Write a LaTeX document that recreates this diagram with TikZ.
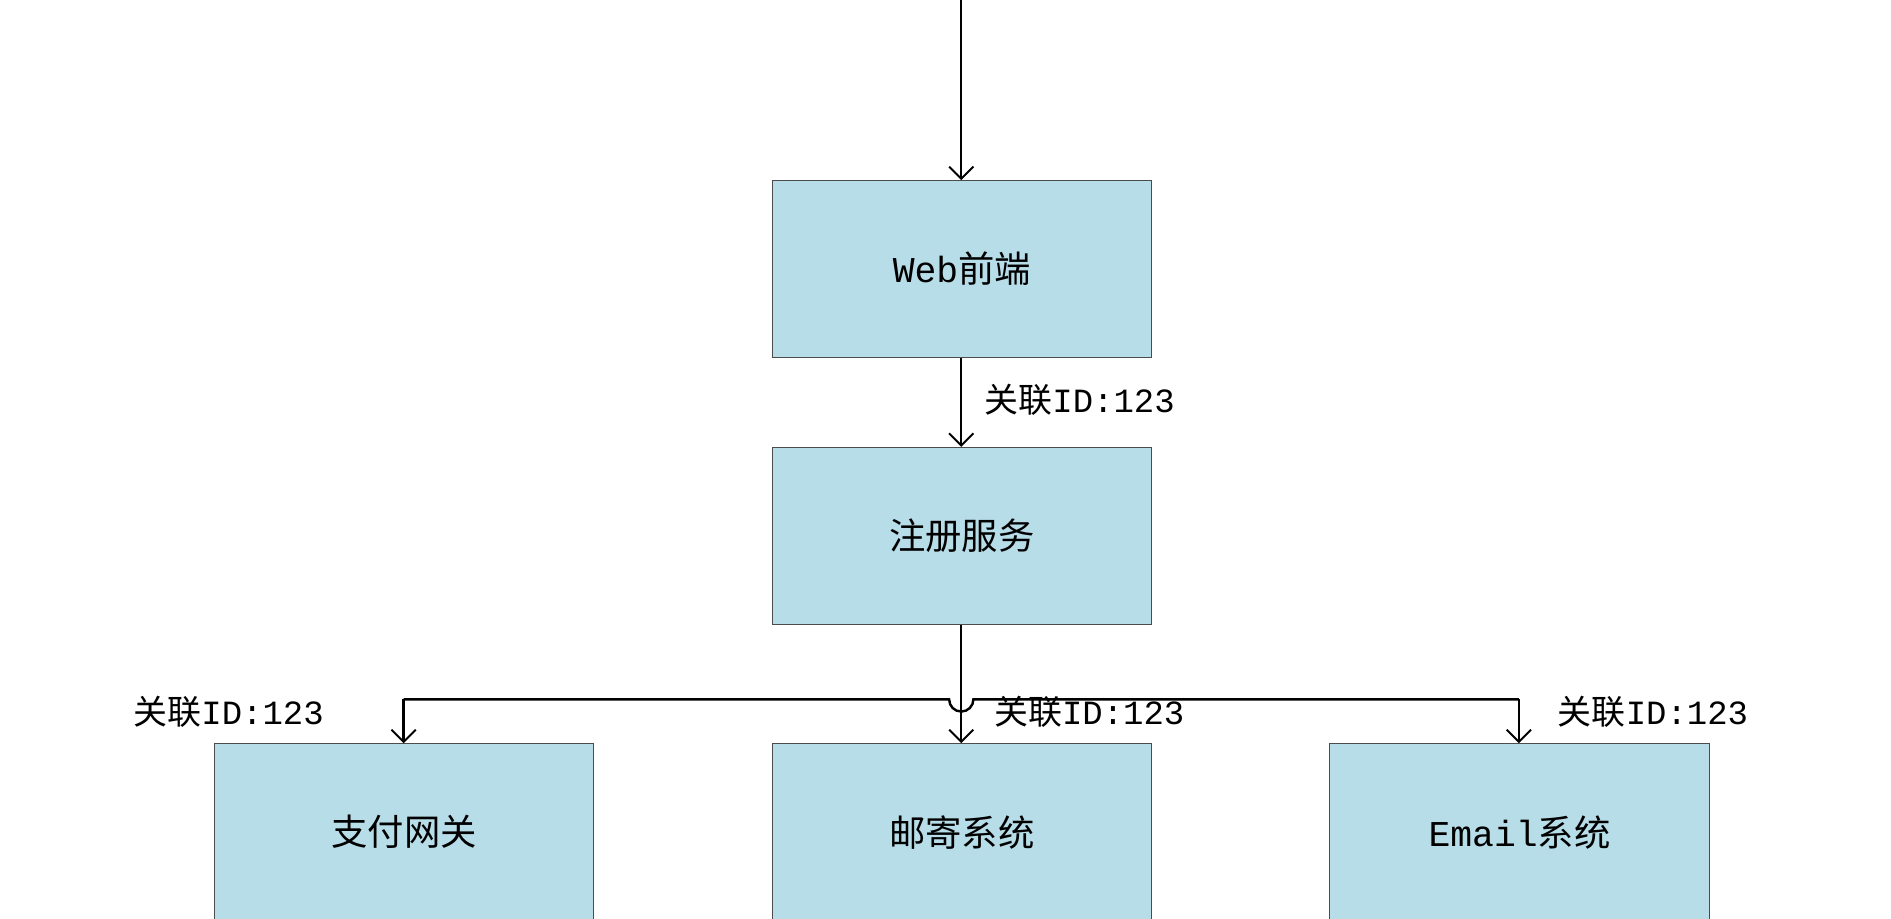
\documentclass[tikz,border=0pt]{standalone}
\usepackage{fontspec}
\setmainfont{Liberation Serif}
\newfontfamily\cjk{Noto Sans CJK SC}
\newfontfamily\lat{Liberation Mono}
\usetikzlibrary{arrows.meta}
\begin{document}
\begin{tikzpicture}[x=1pt,y=-1pt,
  box/.style={draw=black!70,line width=0.8pt,minimum width=313pt,minimum height=146pt,inner sep=0pt,font=\cjk\fontsize{30}{36}\selectfont},
  conn/.style={line width=2pt,-{Straight Barb[length=10pt,width=20pt,line width=1.6pt]}},
  lbl/.style={font=\cjk\fontsize{28}{32}\selectfont,inner sep=0pt}]
\useasboundingbox (0,0) rectangle (1560,758);
\definecolor{bx}{HTML}{B7DDE8}
\tikzset{box/.append style={fill=bx}}
\coordinate (top) at (793,0);
\node[box] (web) at (793.5,222) {{\lat Web}前端};
\node[box] (reg) at (793.5,442) {注册服务};
\node[box] (pay) at (333.5,686.5) {支付网关};
\node[box] (post) at (793.5,686.5) {邮寄系统};
\node[box] (mail) at (1253.5,686.5) {{\lat Email}系统};
\coordinate (hl) at (333,577);
\coordinate (hr) at (1253,577);
\draw[conn] (top) -- (web.north -| top);
\draw[conn] (web.south -| top) -- (reg.north -| top);
\draw[conn] (reg.south -| top) -- (post.north -| top);
\draw[line width=2pt] (hl) -- (783,577) arc (180:0:10) -- (hr);
\draw[conn] (hl) -- (pay.north -| hl);
\draw[conn] (hr) -- (mail.north -| hr);
\node[lbl,anchor=west] (l1) at (812,330) {关联{\lat ID:123}};
\node[lbl,anchor=west] (l2) at (110,587) {关联{\lat ID:123}};
\node[lbl,anchor=west] (l3) at (820,587) {关联{\lat ID:123}};
\node[lbl,anchor=west] (l4) at (1285,587) {关联{\lat ID:123}};
\end{tikzpicture}
\end{document}
